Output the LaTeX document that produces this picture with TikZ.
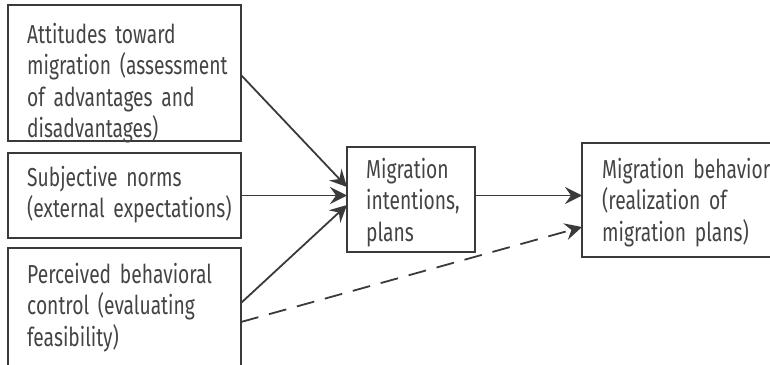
\documentclass[tikz,border=0pt]{standalone}
\usepackage{fontspec}
\setmainfont[FakeStretch=0.74]{Fira Sans}
\usetikzlibrary{arrows.meta,calc}
\definecolor{ink}{HTML}{3A3A3A}
\definecolor{textink}{HTML}{444444}
\begin{document}
\begin{tikzpicture}[x=1pt,y=-1pt,
  box/.style={draw=ink,line width=2pt,inner sep=0pt,outer sep=0pt,anchor=north west},
  txt/.style={anchor=base west,inner sep=0pt,align=left,text width=230pt,
    font=\fontsize{26}{31.5}\selectfont,text=textink},
  arr/.style={draw=ink,line width=1.8pt,-{Stealth[length=17pt,width=17pt,inset=6pt]}}]
\useasboundingbox (0,0) rectangle (770,364);
% boxes
\node[box,minimum width=233pt,minimum height=136pt] (b1) at (8,5) {};
\node[box,minimum width=233pt,minimum height=85pt] (b2) at (8,153) {};
\node[box,minimum width=233pt,minimum height=122pt] (b3) at (8,248) {};
\node[box,minimum width=128pt,minimum height=105pt] (bm) at (347,147) {};
\node[box,minimum width=193pt,minimum height=114pt] (br) at (582,143) {};
% texts
\node[txt] (t1) at (27,43) {Attitudes toward\\migration (assessment\\of advantages and\\disadvantages)};
\node[txt] (t2) at (27,186) {Subjective norms\\(external expectations)};
\node[txt] (t3) at (27,283) {Perceived behavioral\\control (evaluating\\feasibility)};
\node[txt] (tm) at (366,178) {Migration\\intentions,\\plans};
\node[txt] (tr) at (602,178) {Migration behavior\\(realization of\\migration plans)};
% connectors
\draw[arr] ($(b1.north east)+(0,70)$) -- ($(bm.north west)+(0,40)$);
\draw[arr] (b2.east) -- (b2.east -| bm.west);
\draw[arr] ($(b3.north east)+(0,55)$) -- ($(bm.north west)+(0,58)$);
\draw[arr] (bm.east |- b2.east) -- (b2.east -| br.west);
\draw[arr,dash pattern=on 18pt off 11pt] ($(b3.north east)+(0,74)$) -- ($(br.north west)+(0,84)$);
\end{tikzpicture}
\end{document}
